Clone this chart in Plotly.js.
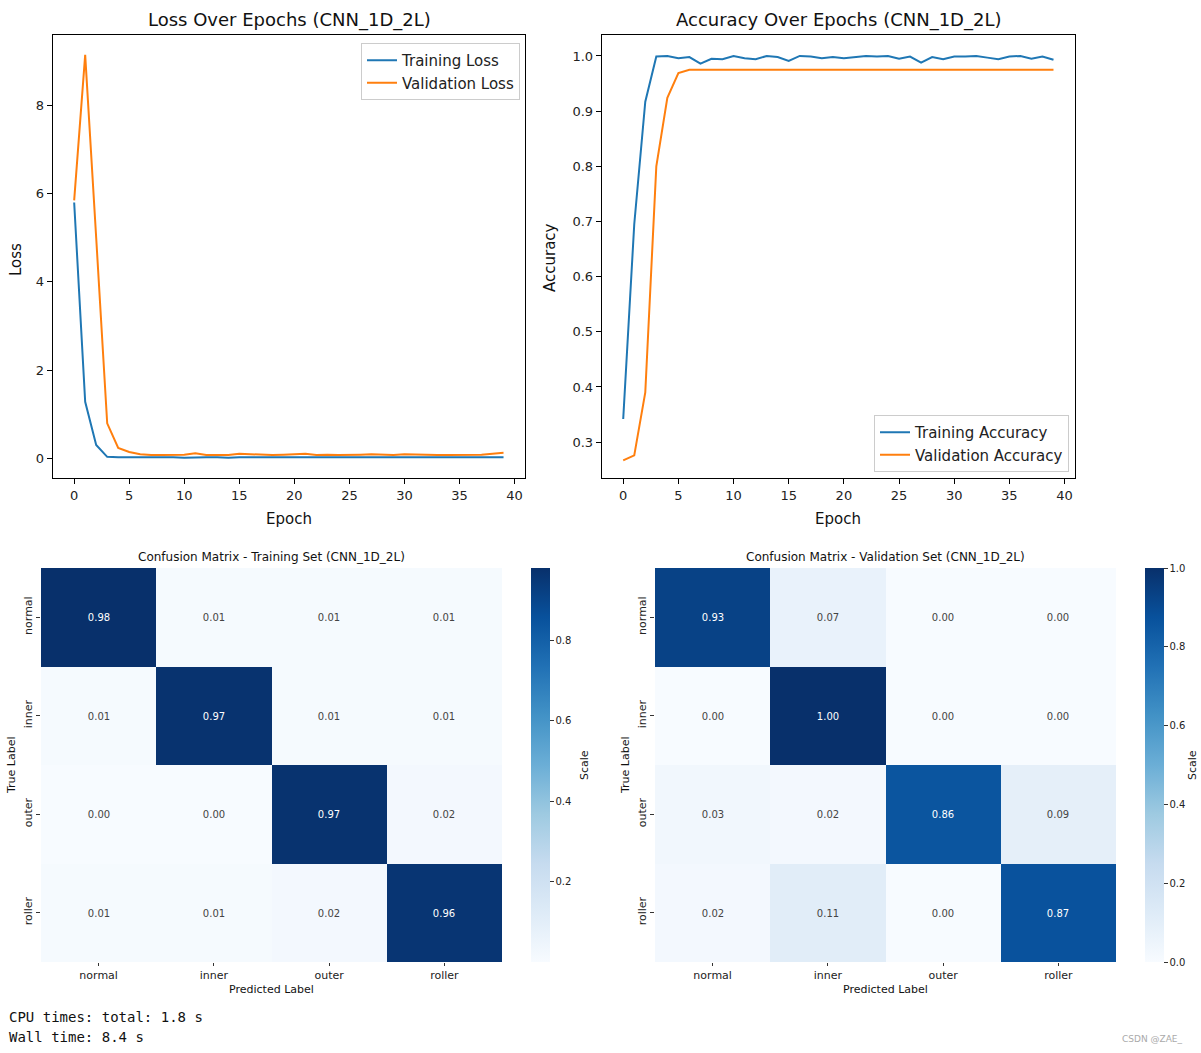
<!DOCTYPE html>
<html>
<head>
<meta charset="utf-8">
<script src="https://cdn.plot.ly/plotly-3.0.1.min.js"></script>
<style>
html,body{margin:0;padding:0;background:#fff;}
#chart{width:1201px;height:1053px;}
</style>
</head>
<body>
<div id="chart"></div>
<script>
// ---- Data ----
const epochs = Array.from({length: 40}, (_, i) => i);
const trainLoss = [5.8, 1.28, 0.30, 0.03, 0.02, 0.02, 0.03, 0.02, 0.03, 0.02, 0.01, 0.02, 0.02, 0.02, 0.01, 0.02, 0.02, 0.01, 0.02, 0.02,
                   0.02, 0.02, 0.01, 0.02, 0.01, 0.02, 0.02, 0.02, 0.01, 0.02, 0.02, 0.02, 0.01, 0.02, 0.02, 0.01, 0.02, 0.01, 0.02, 0.02];
const valLoss = [5.85, 9.15, 5.0, 0.79, 0.23, 0.14, 0.09, 0.07, 0.07, 0.08, 0.08, 0.11, 0.07, 0.07, 0.07, 0.10, 0.09, 0.08, 0.07, 0.08,
                 0.09, 0.10, 0.07, 0.08, 0.07, 0.07, 0.08, 0.09, 0.08, 0.07, 0.09, 0.08, 0.07, 0.07, 0.07, 0.07, 0.07, 0.08, 0.10, 0.12];
const trainAcc = [0.342, 0.695, 0.917, 0.999, 1.0, 0.996, 0.998, 0.986, 0.995, 0.994, 1.0, 0.996, 0.994, 1.0, 0.998, 0.991, 1.0, 0.999, 0.996, 0.998,
                  0.996, 0.998, 1.0, 0.999, 1.0, 0.995, 0.999, 0.988, 0.998, 0.994, 0.999, 0.999, 1.0, 0.997, 0.994, 0.999, 1.0, 0.995, 0.999, 0.993];
const valAcc = [0.267, 0.276, 0.39, 0.80, 0.924, 0.969, 0.975, 0.975, 0.975, 0.975, 0.975, 0.975, 0.975, 0.975, 0.975, 0.975, 0.975, 0.975, 0.975, 0.975,
                0.975, 0.975, 0.975, 0.975, 0.975, 0.975, 0.975, 0.975, 0.975, 0.975, 0.975, 0.975, 0.975, 0.975, 0.975, 0.975, 0.975, 0.975, 0.975, 0.975];

const classes = ['normal', 'inner', 'outer', 'roller'];
const cmTrain = [
  [0.98, 0.01, 0.01, 0.01],
  [0.01, 0.97, 0.01, 0.01],
  [0.00, 0.00, 0.97, 0.02],
  [0.01, 0.01, 0.02, 0.96]
];
const cmVal = [
  [0.93, 0.07, 0.00, 0.00],
  [0.00, 1.00, 0.00, 0.00],
  [0.03, 0.02, 0.86, 0.09],
  [0.02, 0.11, 0.00, 0.87]
];
const lossTicks = [0, 2, 4, 6, 8];
const accTicks = [0.3, 0.4, 0.5, 0.6, 0.7, 0.8, 0.9, 1.0];
const epochTicks = [0, 5, 10, 15, 20, 25, 30, 35, 40];

// ---- Styling ----
const W = 1201, H = 1053;
const px = v => v / W;
const py = v => 1 - v / H;
const FONT = 'DejaVu Sans, sans-serif';
const BLUE = '#1f77b4', ORANGE = '#ff7f0e';
const blues = [
  [0, '#f7fbff'], [0.125, '#deebf7'], [0.25, '#c6dbef'], [0.375, '#9ecae1'],
  [0.5, '#6baed6'], [0.625, '#4292c6'], [0.75, '#2171b5'], [0.875, '#08519c'], [1, '#08306b']
];

const lineAxis = (domain, range, tickvals, anchor) => ({
  domain: domain, range: range, tickvals: tickvals, anchor: anchor,
  showline: true, mirror: true, linecolor: '#000', linewidth: 1,
  ticks: 'outside', ticklen: 5, tickcolor: '#000', tickwidth: 1,
  showgrid: false, zeroline: false,
  tickfont: {family: FONT, size: 13, color: '#222'}
});

const traces = [
  {x: epochs, y: trainLoss, type: 'scatter', mode: 'lines', name: 'Training Loss',
   line: {color: BLUE, width: 2}, xaxis: 'x', yaxis: 'y', legend: 'legend'},
  {x: epochs, y: valLoss, type: 'scatter', mode: 'lines', name: 'Validation Loss',
   line: {color: ORANGE, width: 2}, xaxis: 'x', yaxis: 'y', legend: 'legend'},
  {x: epochs, y: trainAcc, type: 'scatter', mode: 'lines', name: 'Training Accuracy',
   line: {color: BLUE, width: 2}, xaxis: 'x2', yaxis: 'y2', legend: 'legend2'},
  {x: epochs, y: valAcc, type: 'scatter', mode: 'lines', name: 'Validation Accuracy',
   line: {color: ORANGE, width: 2}, xaxis: 'x2', yaxis: 'y2', legend: 'legend2'},
  {z: cmTrain, x: classes, y: classes, type: 'heatmap', xaxis: 'x3', yaxis: 'y3',
   colorscale: blues, zmin: 0, zmax: 0.98, showlegend: false,
   texttemplate: '%{z:.2f}', textfont: {family: FONT, size: 10},
   colorbar: {x: px(531), xanchor: 'left', xpad: 0, ypad: 0, thickness: 19,
     len: 394 / H, y: py(765), yanchor: 'middle', outlinewidth: 0,
     tickvals: [0.2, 0.4, 0.6, 0.8], ticks: 'outside', ticklen: 4, tickcolor: '#333',
     tickfont: {family: FONT, size: 10, color: '#222'}}},
  {z: cmVal, x: classes, y: classes, type: 'heatmap', xaxis: 'x4', yaxis: 'y4',
   colorscale: blues, zmin: 0, zmax: 1.0, showlegend: false,
   texttemplate: '%{z:.2f}', textfont: {family: FONT, size: 10},
   colorbar: {x: px(1145), xanchor: 'left', xpad: 0, ypad: 0, thickness: 19,
     len: 394 / H, y: py(765), yanchor: 'middle', outlinewidth: 0,
     tickvals: [0, 0.2, 0.4, 0.6, 0.8, 1.0], tickformat: '.1f', ticks: 'outside', ticklen: 4, tickcolor: '#333',
     tickfont: {family: FONT, size: 10, color: '#222'}}}
];

const hmX = (domain, anchor) => ({
  domain: domain, anchor: anchor, showline: false, showgrid: false, zeroline: false,
  ticks: 'outside', ticklen: 3, tickcolor: '#333',
  tickfont: {family: FONT, size: 11, color: '#222'}
});
const hmY = (domain, anchor) => ({
  domain: domain, anchor: anchor, showline: false, showgrid: false, zeroline: false,
  autorange: 'reversed', ticks: 'outside', ticklen: 4, tickcolor: '#333', tickangle: -90,
  tickfont: {family: FONT, size: 11, color: '#222'}
});

const ann = (x, y, text, size, extra) => Object.assign({
  x: px(x), y: py(y), xref: 'paper', yref: 'paper', text: text, showarrow: false,
  xanchor: 'center', yanchor: 'middle', font: {family: FONT, size: size, color: '#111'}
}, extra || {});

const layout = {
  width: W, height: H,
  margin: {l: 0, r: 0, t: 0, b: 0},
  paper_bgcolor: '#fff', plot_bgcolor: '#fff',
  showlegend: true,
  xaxis: lineAxis([px(52.7), px(525)], [-1.95, 40.95], epochTicks, 'y'),
  yaxis: lineAxis([py(478), py(35)], [-0.45, 9.6], lossTicks, 'x'),
  xaxis2: lineAxis([px(601.7), px(1075)], [-1.95, 40.95], epochTicks, 'y2'),
  yaxis2: Object.assign(lineAxis([py(478), py(35)], [0.235, 1.038], accTicks, 'x2'), {tickformat: '.1f'}),
  xaxis3: hmX([px(41), px(502)], 'y3'),
  yaxis3: hmY([py(962), py(568)], 'x3'),
  xaxis4: hmX([px(655), px(1116)], 'y4'),
  yaxis4: hmY([py(962), py(568)], 'x4'),
  legend: {x: px(520), y: py(43), xanchor: 'right', yanchor: 'top',
    bgcolor: 'rgba(255,255,255,0.8)', bordercolor: '#cccccc', borderwidth: 1,
    font: {family: FONT, size: 15, color: '#222'}, tracegroupgap: 0},
  legend2: {x: px(1069), y: py(472), xanchor: 'right', yanchor: 'bottom',
    bgcolor: 'rgba(255,255,255,0.8)', bordercolor: '#cccccc', borderwidth: 1,
    font: {family: FONT, size: 15, color: '#222'}, tracegroupgap: 0},
  annotations: [
    ann(289, 20, 'Loss Over Epochs (CNN_1D_2L)', 18),
    ann(838, 20, 'Accuracy Over Epochs (CNN_1D_2L)', 18),
    ann(289, 519, 'Epoch', 15),
    ann(838, 519, 'Epoch', 15),
    ann(16, 260, 'Loss', 15, {textangle: -90}),
    ann(550, 258, 'Accuracy', 15, {textangle: -90}),
    ann(271, 557, 'Confusion Matrix - Training Set (CNN_1D_2L)', 12),
    ann(885, 557, 'Confusion Matrix - Validation Set (CNN_1D_2L)', 12),
    ann(271, 989, 'Predicted Label', 11),
    ann(885, 989, 'Predicted Label', 11),
    ann(11, 765, 'True Label', 11, {textangle: -90}),
    ann(625, 765, 'True Label', 11, {textangle: -90}),
    ann(584, 765, 'Scale', 11, {textangle: -90}),
    ann(1192, 765, 'Scale', 11, {textangle: -90}),
    ann(7, 1017, 'CPU times: total: 1.8 s', 14, {xanchor: 'left', font: {family: 'DejaVu Sans Mono, monospace', size: 14, color: '#111'}}),
    ann(7, 1037, 'Wall time: 8.4 s', 14, {xanchor: 'left', font: {family: 'DejaVu Sans Mono, monospace', size: 14, color: '#111'}}),
    ann(1185, 1039, 'CSDN @ZAE_', 9, {xanchor: 'right', font: {family: FONT, size: 9, color: '#aaa'}})
  ]
};

Plotly.newPlot('chart', traces, layout, {displayModeBar: false, staticPlot: true});
</script>
</body>
</html>
